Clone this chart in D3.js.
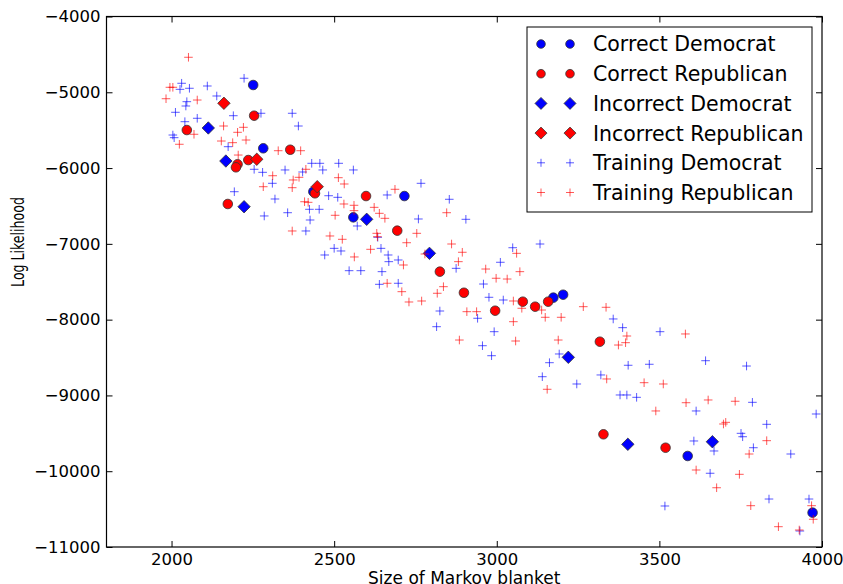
<!DOCTYPE html>
<html>
  <head>
    <meta charset="utf-8">
    <script src="https://cdn.jsdelivr.net/npm/d3@7"></script>
    <style>
      body { margin: 0; background: #fff; }
      text { font-family: "DejaVu Sans", sans-serif; fill: #000; }
    </style>
  </head>
  <body>
    <script>

      // tick labels
      var xTicks = [2000, 2500, 3000, 3500, 4000];
      var yTicks = [-4000, -5000, -6000, -7000, -8000, -9000, -10000, -11000];

      // series: [size of markov blanket, log likelihood]
      var correctDem = [[2251,-4904],[2282,-5739],[2716,-6369],[2436,-6312],[2559,-6650],
        [3174,-7710],[3204,-7671],[3587,-9799],[3971,-10547]];

      var correctRep = [[2254,-5309],[2047,-5498],[2365,-5758],[2236,-5894],[2203,-5950],
        [2198,-5990],[2441,-6333],[2173,-6474],[2598,-6369],[2694,-6826],[2825,-7367],
        [2899,-7645],[2995,-7882],[3080,-7763],[3118,-7829],[3158,-7763],[3317,-8291],
        [3328,-9513],[3519,-9690]];

      var incorrectDem = [[2113,-5471],[2167,-5907],[2223,-6510],[2600,-6676],[2793,-7125],
        [3220,-8497],[3403,-9645],[3663,-9611]];

      var incorrectRep = [[2161,-5145],[2262,-5884],[2448,-6246]];

      var trainingDem = [[2223,-4815],[2031,-4881],[2055,-4947],[2026,-4961],[2110,-4917],
        [2139,-5049],[2047,-5124],[2044,-5181],[2012,-5264],[2079,-5343],[2041,-5388],
        [2190,-5309],[2275,-5277],[2371,-5277],[2390,-5445],[2004,-5564],[2008,-5599],
        [2174,-5718],[2254,-6016],[2280,-6056],[2349,-6025],[2403,-6052],[2431,-5937],
        [2456,-5937],[2465,-6025],[2514,-5937],[2559,-6025],[2310,-6201],[2193,-6312],
        [2318,-6408],[2285,-6632],[2357,-6589],[2424,-6544],[2454,-6544],[2426,-6685],
        [2413,-6830],[2483,-6365],[2511,-6386],[2571,-6764],[2663,-6355],[2767,-6201],
        [2854,-6412],[2759,-6672],[2634,-6913],[2644,-7059],[2500,-7059],[2521,-7094],
        [2471,-7147],[2666,-7147],[2546,-7354],[2582,-7354],[2647,-7367],[2697,-7213],
        [2668,-7235],[2639,-7534],[2697,-7520],[2875,-7323],[2825,-7886],[2815,-8093],
        [2905,-6676],[3011,-7243],[3049,-7051],[3133,-7002],[2959,-7530],[2976,-7705],
        [3020,-7741],[2941,-7982],[2992,-8159],[2956,-8344],[2984,-8476],[3192,-8453],
        [3162,-8568],[3140,-8753],[3246,-8849],[3320,-8730],[3358,-7991],[3387,-8106],
        [3404,-8602],[3469,-8589],[3502,-8159],[3642,-8542],[3768,-8612],[3379,-8994],
        [3400,-8994],[3430,-9025],[3613,-9205],[3786,-9091],[3982,-9245],[3830,-9381],
        [3751,-9500],[3756,-9545],[3789,-9690],[3904,-9773],[3606,-9601],[3668,-9733],
        [3656,-10027],[3517,-10459],[3837,-10367],[3960,-10367],[3932,-10789]];

      var trainingRep = [[2052,-4538],[1995,-4934],[2004,-4934],[1983,-5085],[2079,-5102],
        [2069,-5554],[2024,-5686],[2160,-5445],[2221,-5462],[2203,-5528],[2229,-5630],
        [2153,-5643],[2188,-5665],[2205,-5828],[2328,-5771],[2397,-5771],[2311,-6101],
        [2374,-6157],[2392,-6122],[2413,-6016],[2282,-6246],[2371,-6259],[2409,-6444],
        [2420,-6452],[2371,-6830],[2513,-6127],[2531,-6210],[2503,-6623],[2530,-6474],
        [2561,-6491],[2561,-6562],[2623,-6518],[2639,-6597],[2656,-6663],[2687,-6280],
        [2487,-6896],[2525,-6940],[2631,-6861],[2633,-6906],[2723,-6985],[2754,-6861],
        [2612,-7072],[2562,-7173],[2713,-7279],[2779,-7134],[2846,-6589],[2861,-7002],
        [2836,-7565],[2882,-7235],[2663,-7520],[2708,-7631],[2730,-7767],[2769,-7754],
        [2817,-7652],[2885,-8269],[2894,-7111],[2966,-7332],[2998,-7454],[3032,-7464],
        [3071,-7367],[3061,-7125],[3051,-7754],[2908,-7895],[2938,-7895],[3051,-8027],
        [3077,-7850],[3138,-7873],[3149,-7969],[3198,-7969],[3058,-8282],[3189,-8269],
        [3155,-8919],[3338,-8783],[3266,-7829],[3336,-7837],[3400,-8216],[3396,-8304],
        [3374,-8335],[3580,-8189],[3453,-8832],[3512,-8849],[3489,-9205],[3582,-9096],
        [3650,-9060],[3733,-9077],[3697,-9377],[3704,-9355],[3830,-9597],[3776,-9773],
        [3613,-9984],[3746,-10041],[3676,-10218],[3781,-10455],[3968,-10455],[3866,-10732],
        [3930,-10776],[3973,-10634]];

      var legendNames = ["Correct Democrat", "Correct Republican", "Incorrect Democrat",
        "Incorrect Republican", "Training Democrat", "Training Republican"];

      // figure size and axes box
      var W = 843, H = 584;
      var margin = {left: 106.5, top: 16.5, right: 822, bottom: 547};

      var svg = d3.select("body")
        .append("svg")
        .attr("width", W)
        .attr("height", H);

      var x = d3.scaleLinear().domain([1800, 4000]).range([margin.left, margin.right]);
      var y = d3.scaleLinear().domain([-11000, -4000]).range([margin.bottom, margin.top]);

      var fmt = d3.format("d");
      var tickLen = 6;

      // bottom axis with labels, ticks pointing inward
      svg.append("g")
        .attr("transform", "translate(0," + margin.bottom + ")")
        .call(d3.axisBottom(x).tickValues(xTicks).tickSizeInner(-tickLen).tickSizeOuter(0)
          .tickPadding(6).tickFormat(fmt));

      // left axis with labels
      svg.append("g")
        .attr("transform", "translate(" + margin.left + ",0)")
        .call(d3.axisLeft(y).tickValues(yTicks).tickSizeInner(-tickLen).tickSizeOuter(0)
          .tickPadding(6).tickFormat(function(d) { return fmt(d).replace("-", "\u2212"); }));

      // top and right ticks only
      svg.append("g")
        .attr("transform", "translate(0," + margin.top + ")")
        .call(d3.axisTop(x).tickValues(xTicks).tickSizeInner(-tickLen).tickSizeOuter(0).tickFormat(""));
      svg.append("g")
        .attr("transform", "translate(" + margin.right + ",0)")
        .call(d3.axisRight(y).tickValues(yTicks).tickSizeInner(-tickLen).tickSizeOuter(0).tickFormat(""));

      svg.selectAll(".domain").remove();
      svg.selectAll(".tick line").attr("stroke", "#000").attr("stroke-width", 1);
      svg.selectAll(".tick text")
        .style("font-family", "'DejaVu Sans', sans-serif")
        .style("font-size", "16.5px")
        .attr("fill", "#000");

      // marker drawing helpers
      function diamond(s) {
        return "M0," + (-s) + "L" + s + ",0L0," + s + "L" + (-s) + ",0Z";
      }
      function cross(s) {
        return "M" + (-s) + ",0H" + s + "M0," + (-s) + "V" + s;
      }

      var plot = svg.append("g");

      function drawCircles(data, color) {
        plot.append("g").selectAll("circle")
          .data(data)
          .enter()
          .append("circle")
          .attr("cx", function(d) { return x(d[0]); })
          .attr("cy", function(d) { return y(d[1]); })
          .attr("r", 4.8)
          .attr("fill", color)
          .attr("stroke", "#333")
          .attr("stroke-width", 0.8);
      }

      function drawDiamonds(data, color) {
        plot.append("g").selectAll("path")
          .data(data)
          .enter()
          .append("path")
          .attr("d", diamond(6.2))
          .attr("transform", function(d) { return "translate(" + x(d[0]) + "," + y(d[1]) + ")"; })
          .attr("fill", color)
          .attr("stroke", "#333")
          .attr("stroke-width", 0.8);
      }

      function drawCrosses(data, color) {
        plot.append("g").selectAll("path")
          .data(data)
          .enter()
          .append("path")
          .attr("d", cross(4.3))
          .attr("transform", function(d) { return "translate(" + x(d[0]) + "," + y(d[1]) + ")"; })
          .attr("fill", "none")
          .attr("stroke", color)
          .attr("stroke-opacity", 0.65)
          .attr("stroke-width", 1);
      }

      drawCircles(correctDem, "#0000ff");
      drawCircles(correctRep, "#ff0000");
      drawDiamonds(incorrectDem, "#0000ff");
      drawDiamonds(incorrectRep, "#ff0000");
      drawCrosses(trainingDem, "#0000ff");
      drawCrosses(trainingRep, "#ff0000");

      // axes frame
      svg.append("rect")
        .attr("x", margin.left)
        .attr("y", margin.top)
        .attr("width", margin.right - margin.left)
        .attr("height", margin.bottom - margin.top)
        .attr("fill", "none")
        .attr("stroke", "#000")
        .attr("stroke-width", 1.2);

      // axis titles
      svg.append("text")
        .attr("x", (margin.left + margin.right) / 2)
        .attr("y", 584)
        .attr("text-anchor", "middle")
        .style("font-size", "17px")
        .text("Size of Markov blanket");

      // y title is squeezed along its length, as in the picture
      svg.append("text")
        .attr("transform", "translate(24,242) rotate(-90) scale(0.74,1)")
        .attr("text-anchor", "middle")
        .style("font-size", "17px")
        .text("Log Likelihood");

      // legend
      var legend = svg.append("g");
      legend.append("rect")
        .attr("x", 527)
        .attr("y", 27)
        .attr("width", 285)
        .attr("height", 185)
        .attr("fill", "#fff")
        .attr("stroke", "#000")
        .attr("stroke-width", 1);

      var kinds = ["circle", "circle", "diamond", "diamond", "cross", "cross"];
      var colors = ["#0000ff", "#ff0000", "#0000ff", "#ff0000", "#0000ff", "#ff0000"];

      legendNames.forEach(function(name, i) {
        var ly = 44 + i * 29.7;
        [541, 570].forEach(function(lx) {
          if (kinds[i] === "circle") {
            legend.append("circle").attr("cx", lx).attr("cy", ly).attr("r", 4.3)
              .attr("fill", colors[i]).attr("stroke", "#333").attr("stroke-width", 0.8);
          } else if (kinds[i] === "diamond") {
            legend.append("path").attr("d", diamond(6))
              .attr("transform", "translate(" + lx + "," + ly + ")")
              .attr("fill", colors[i]).attr("stroke", "#333").attr("stroke-width", 0.8);
          } else {
            legend.append("path").attr("d", cross(4))
              .attr("transform", "translate(" + lx + "," + ly + ")")
              .attr("fill", "none").attr("stroke", colors[i])
              .attr("stroke-opacity", 0.65).attr("stroke-width", 1);
          }
        });
        legend.append("text")
          .attr("x", 593)
          .attr("y", ly + 7.4)
          .style("font-size", "20.5px")
          .text(name);
      });

    </script>
  </body>
</html>
